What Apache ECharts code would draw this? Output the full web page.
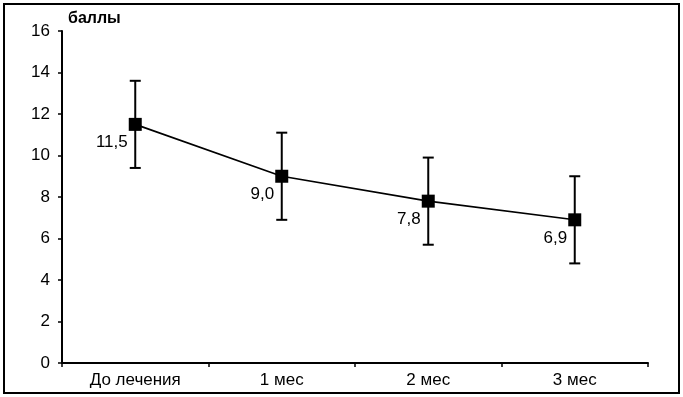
<!DOCTYPE html>
<html>
<head>
<meta charset="utf-8">
<script src="https://cdn.jsdelivr.net/npm/echarts@6/dist/echarts.min.js"></script>
<style>
  html, body { margin: 0; padding: 0; background: #fff; }
  #chart { width: 683px; height: 397px; }
</style>
</head>
<body>
<div id="chart"></div>
<script>
const categories = ['До лечения', '1 мес', '2 мес', '3 мес']
const scores = [11.5, 9.0, 7.8, 6.9]
const upper = [13.6, 11.1, 9.9, 9.0]
const lower = [9.4, 6.9, 5.7, 4.8]
const yTicks = [0, 2, 4, 6, 8, 10, 12, 14, 16]

const chart = echarts.init(document.getElementById('chart'))
const font = 'Liberation Sans, Arial, sans-serif'

// error bars drawn through the axis scales
const errData = categories.map((c, i) => [i, lower[i], upper[i]])

const option = {
  animation: false,
  backgroundColor: '#fff',
  grid: { left: 62, right: 35, top: 31, bottom: 34 },
  graphic: [
    {
      type: 'rect',
      shape: { x: 4, y: 4, width: 675, height: 389 },
      style: { fill: 'none', stroke: '#000', lineWidth: 2 },
      z: 100
    },
    {
      type: 'text',
      left: 68, top: 11,
      style: { text: 'баллы', font: 'bold 16px ' + font, fill: '#000' }
    }
  ],
  xAxis: {
    type: 'category',
    data: categories,
    axisLine: { lineStyle: { color: '#000', width: 2 } },
    axisTick: { show: true, length: 4, inside: false, lineStyle: { color: '#000', width: 1.5 } },
    axisLabel: { color: '#000', fontSize: 17, fontFamily: font, margin: 9 },
    splitLine: { show: false }
  },
  yAxis: {
    type: 'value',
    min: yTicks[0],
    max: yTicks[yTicks.length - 1],
    interval: 2,
    axisLine: { show: true, lineStyle: { color: '#000', width: 2 } },
    axisTick: { show: true, length: 4, lineStyle: { color: '#000', width: 1.5 } },
    axisLabel: { color: '#000', fontSize: 17, fontFamily: font, margin: 12 },
    splitLine: { show: false }
  },
  series: [
    {
      type: 'custom',
      data: errData,
      z: 3,
      renderItem: function (params, api) {
        const x = api.value(0)
        const lo = api.coord([x, api.value(1)])
        const hi = api.coord([x, api.value(2)])
        const half = 5.5
        const st = { stroke: '#000', lineWidth: 2 }
        return {
          type: 'group',
          children: [
            { type: 'line', shape: { x1: hi[0], y1: hi[1], x2: lo[0], y2: lo[1] }, style: st },
            { type: 'line', shape: { x1: hi[0] - half, y1: hi[1], x2: hi[0] + half, y2: hi[1] }, style: st },
            { type: 'line', shape: { x1: lo[0] - half, y1: lo[1], x2: lo[0] + half, y2: lo[1] }, style: st }
          ]
        }
      }
    },
    {
      type: 'line',
      data: scores,
      z: 5,
      symbol: 'rect',
      symbolSize: 13,
      lineStyle: { color: '#000', width: 1.6 },
      itemStyle: { color: '#000' },
      label: {
        show: true,
        position: 'left',
        distance: 0,
        offset: [-1, 18],
        color: '#000',
        fontSize: 17,
        fontFamily: font,
        formatter: p => p.value.toFixed(1).replace('.', ',')
      }
    }
  ]
}

chart.setOption(option)
</script>
</body>
</html>
